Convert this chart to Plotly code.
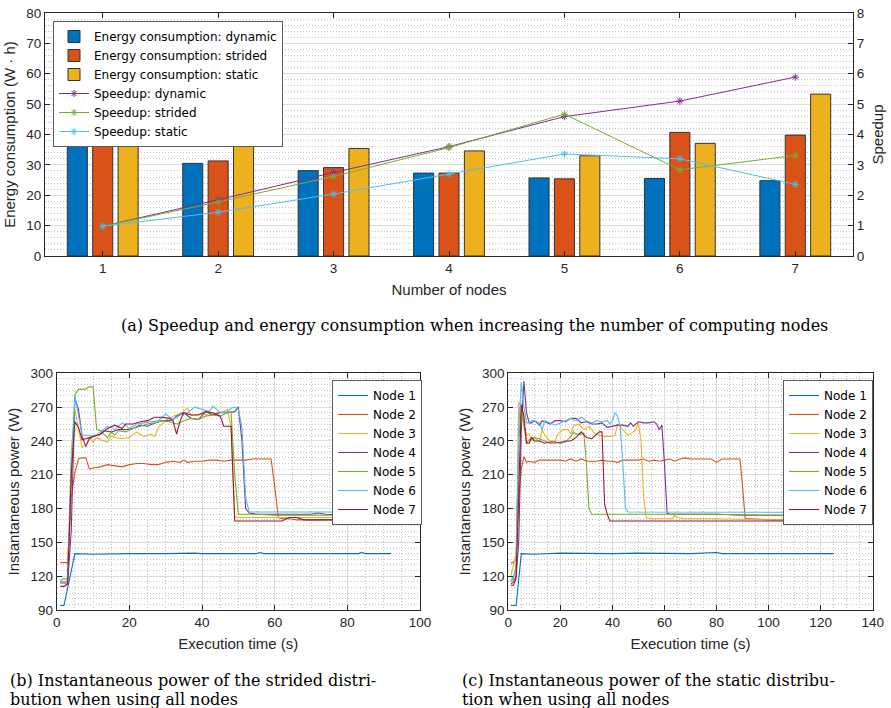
import plotly.graph_objects as go

# ---------------- data: top chart ----------------
nodes = [1, 2, 3, 4, 5, 6, 7]
energy_dynamic = [37.1, 30.5, 28.1, 27.3, 25.7, 25.5, 24.8]
energy_strided = [37.0, 31.3, 29.1, 27.3, 25.4, 40.7, 39.8]
energy_static = [36.4, 37.0, 35.4, 34.6, 33.0, 37.1, 53.3]
speedup_dynamic = [0.98, 1.85, 2.75, 3.60, 4.59, 5.10, 5.89]
speedup_strided = [0.98, 1.78, 2.62, 3.57, 4.67, 2.84, 3.31]
speedup_static = [0.98, 1.44, 2.04, 2.70, 3.36, 3.20, 2.36]

# ---------------- data: strided distribution power ----------------
str_t1 = [1, 2, 5, 10, 20, 25, 26, 30, 37, 38, 40, 50, 55, 56, 57, 60, 70, 83, 84, 85, 92]
str_p1 = [94, 94, 140, 139.5, 140, 140.5, 140, 140, 141, 140.5, 140, 140, 140, 141, 140, 140, 140, 140, 141, 140, 140]
str_t2 = [1, 2, 3, 4, 5, 6, 7, 8, 9, 10, 12, 14, 16, 18, 20, 22, 24, 26, 28, 30, 32, 34, 35, 36, 38, 40, 42, 44, 46, 48, 50, 52, 54, 56, 58, 59, 60, 61, 62, 64, 66, 70, 80, 90, 92]
str_p2 = [132, 132, 132, 190, 212, 224, 225, 225, 215, 216, 217, 219, 218, 217, 219, 220, 220, 219, 219, 221, 222, 221, 223, 221, 222, 222, 223, 223, 222, 223, 223, 223, 224, 224, 224, 224, 200, 172, 171, 171, 170, 170, 170, 170, 170]
str_t3 = [1, 2, 3, 4, 5, 6, 7, 8, 9, 10, 11, 12, 14, 15, 16, 18, 20, 22, 23, 24, 26, 27, 28, 30, 32, 34, 36, 37, 38, 40, 42, 44, 46, 47, 48, 49, 50, 55, 60, 70, 80, 92]
str_p3 = [116, 118, 116, 230, 268, 250, 234, 236, 243, 239, 243, 241, 239, 245, 243, 242, 243, 248, 246, 244, 246, 244, 252, 258, 262, 264, 269, 263, 263, 264, 263, 265, 266, 268, 252, 173, 172, 172, 172, 172, 172, 172]
str_t4 = [1, 2, 3, 4, 5, 6, 7, 8, 9, 10, 12, 13, 15, 17, 19, 21, 23, 25, 27, 29, 31, 32, 33, 35, 37, 39, 41, 43, 45, 47, 49, 50, 51, 52, 53, 55, 60, 65, 70, 72, 74, 80, 90, 92]
str_p4 = [114, 114, 114, 160, 278, 268, 244, 235, 242, 244, 246, 249, 248, 250, 250, 251, 254, 253, 256, 258, 258, 259, 262, 265, 260, 259, 266, 263, 265, 265, 266, 270, 240, 180, 176, 175, 175, 175, 175, 176, 175, 174, 174, 174]
str_t5 = [1, 2, 3, 4, 5, 6, 8, 9, 10, 11, 12, 14, 15, 16, 17, 19, 21, 23, 25, 27, 29, 31, 33, 35, 37, 39, 41, 43, 45, 47, 48, 49, 50, 55, 60, 70, 80, 92]
str_p5 = [115, 115, 115, 200, 281, 286, 286, 288, 288, 250, 249, 243, 248, 245, 249, 248, 251, 253, 255, 256, 258, 257, 255, 258, 260, 259, 262, 263, 262, 265, 266, 210, 175, 175, 174, 174, 174, 174]
str_t6 = [1, 2, 3, 4, 5, 6, 7, 8, 10, 11, 12, 14, 15, 16, 18, 19, 20, 22, 24, 26, 28, 30, 32, 34, 36, 38, 40, 42, 43, 45, 47, 48, 49, 50, 51, 52, 53, 55, 60, 70, 80, 92]
str_p6 = [116, 118, 118, 220, 280, 262, 245, 245, 245, 245, 248, 253, 252, 250, 256, 254, 251, 255, 256, 257, 258, 264, 259, 263, 265, 270, 268, 266, 271, 265, 266, 269, 270, 268, 252, 190, 177, 177, 177, 177, 177, 177]
str_t7 = [1, 2, 3, 4, 5, 6, 7, 8, 10, 12, 14, 16, 18, 19, 21, 23, 25, 27, 29, 31, 32, 33, 34, 35, 37, 39, 41, 43, 45, 46, 47, 48, 49, 50, 55, 62, 64, 66, 68, 75, 85, 88, 90, 92]
str_p7 = [111, 111, 113, 210, 257, 252, 241, 242, 244, 246, 251, 254, 251, 255, 255, 257, 258, 261, 261, 260, 258, 246, 258, 265, 263, 263, 266, 265, 262, 253, 253, 253, 169, 169, 169, 169, 172, 172, 170, 170, 170, 170, 171, 171]

# ---------------- data: static distribution power ----------------
sta_t1 = [1, 3, 5, 10, 20, 30, 40, 50, 60, 70, 80, 82, 90, 100, 110, 120, 125]
sta_p1 = [94, 94, 140, 139.5, 140.5, 140, 140, 140.5, 140, 140, 141, 140, 140, 140, 140, 140.5, 140]
sta_t2 = [1, 2, 3, 4, 5, 6, 7, 8, 10, 12, 14, 16, 18, 20, 22, 24, 26, 28, 30, 32, 34, 36, 38, 40, 42, 44, 46, 48, 50, 52, 54, 56, 58, 60, 62, 64, 66, 68, 70, 72, 74, 76, 78, 80, 82, 84, 86, 88, 89, 90, 91, 93, 100, 110, 120, 125]
sta_p2 = [132, 132, 135, 190, 215, 226, 221, 222, 221, 223, 223, 223, 223, 223, 222, 224, 222, 224, 222, 222, 222, 223, 222, 222, 221, 223, 223, 223, 223, 224, 222, 223, 222, 223, 224, 222, 224, 225, 224, 224, 224, 224, 224, 221, 224, 224, 224, 224, 224, 200, 171, 171, 170, 170, 170, 169.5]
sta_t3 = [1, 2, 3, 4, 5, 6, 7, 8, 9, 10, 11, 12, 13, 14, 16, 18, 19, 21, 23, 24, 25, 27, 29, 31, 33, 35, 37, 39, 41, 42, 44, 46, 48, 49, 50, 51, 52, 53, 55, 60, 63, 64, 65, 68, 80, 100, 125]
sta_p3 = [120, 130, 140, 274, 272, 255, 245, 246, 240, 243, 241, 240, 250, 245, 240, 240, 246, 250, 250, 246, 253, 255, 250, 253, 247, 245, 244, 244, 245, 255, 250, 245, 248, 250, 256, 240, 190, 172, 171, 171, 171, 174, 172, 171, 171, 170, 170]
sta_t4 = [1, 2, 3, 4, 5, 6, 7, 8, 9, 10, 12, 13, 14, 16, 18, 20, 22, 24, 26, 28, 30, 32, 34, 36, 38, 40, 42, 44, 46, 47, 48, 50, 52, 54, 56, 57, 58, 59, 60, 61, 62, 65, 70, 80, 90, 100, 107, 108, 110, 120, 125]
sta_p4 = [113, 115, 120, 150, 250, 293, 265, 256, 256, 258, 254, 258, 257, 255, 258, 258, 257, 260, 260, 256, 257, 255, 255, 256, 252, 253, 254, 254, 253, 256, 253, 257, 256, 256, 257, 255, 250, 254, 220, 176, 175, 175, 175, 175, 174, 174, 174, 176, 174, 175, 174]
sta_t5 = [1, 2, 3, 4, 5, 6, 7, 8, 10, 12, 14, 16, 18, 20, 22, 24, 25, 26, 28, 29, 30, 31, 32, 34, 40, 60, 80, 100, 125]
sta_p5 = [115, 118, 130, 240, 270, 255, 238, 241, 243, 242, 240, 238, 238, 239, 239, 244, 248, 246, 246, 247, 220, 180, 175, 175, 175, 175, 175, 174, 174]
sta_t6 = [1, 2, 3, 4, 5, 6, 7, 8, 9, 10, 12, 13, 14, 16, 18, 20, 22, 24, 26, 28, 30, 32, 34, 36, 38, 39, 40, 41, 42, 43, 44, 45, 46, 50, 60, 80, 100, 125]
sta_p6 = [117, 120, 125, 250, 292, 270, 256, 256, 258, 258, 256, 250, 258, 256, 254, 256, 258, 260, 258, 261, 258, 256, 258, 257, 258, 255, 258, 265, 262, 252, 220, 180, 177, 177, 177, 177, 177, 176.5]
sta_t7 = [1, 2, 3, 4, 5, 6, 7, 8, 9, 10, 12, 14, 16, 18, 20, 22, 24, 26, 28, 30, 32, 34, 35, 36, 37, 38, 39, 40, 50, 60, 80, 100, 125]
sta_p7 = [112, 112, 118, 200, 272, 262, 238, 238, 243, 240, 240, 238, 239, 239, 238, 240, 240, 243, 248, 243, 242, 246, 248, 248, 184, 175, 169, 169, 169, 169, 169, 169, 169]

node_labels = ["Node 1", "Node 2", "Node 3", "Node 4", "Node 5", "Node 6", "Node 7"]
colors = ["#0072BD", "#D95319", "#EDB120", "#7E2F8E", "#77AC30", "#4DBEEE", "#A2142F"]

FONT = "Liberation Sans, Arial, sans-serif"
LEGFONT = "DejaVu Sans, sans-serif"
SERIF = "DejaVu Serif, serif"
INK = "#262626"
GRID = "#dcdcdc"
MINOR = "#c2c2c2"

fig = go.Figure()

# ---- top chart: bars ----
for name, vals, col in [("Energy consumption: dynamic", energy_dynamic, colors[0]),
                        ("Energy consumption: strided", energy_strided, colors[1]),
                        ("Energy consumption: static", energy_static, colors[2])]:
    fig.add_trace(go.Bar(x=nodes, y=vals, name=name, marker=dict(color=col, line=dict(color="#333333", width=1)),
                         xaxis="x", yaxis="y", legend="legend"))

for name, vals, col in [("Speedup: dynamic", speedup_dynamic, colors[3]),
                        ("Speedup: strided", speedup_strided, colors[4]),
                        ("Speedup: static", speedup_static, colors[5])]:
    fig.add_trace(go.Scatter(x=nodes, y=vals, name=name, mode="lines+markers",
                             line=dict(color=col, width=1),
                             marker=dict(symbol="asterisk-open", size=6, color=col, line=dict(color=col, width=1)),
                             xaxis="x", yaxis="y2", legend="legend"))

# ---- bottom charts ----
str_series = [(str_t1, str_p1), (str_t2, str_p2), (str_t3, str_p3), (str_t4, str_p4),
              (str_t5, str_p5), (str_t6, str_p6), (str_t7, str_p7)]
sta_series = [(sta_t1, sta_p1), (sta_t2, sta_p2), (sta_t3, sta_p3), (sta_t4, sta_p4),
              (sta_t5, sta_p5), (sta_t6, sta_p6), (sta_t7, sta_p7)]
for i, (t, p) in enumerate(str_series):
    fig.add_trace(go.Scatter(x=t, y=p, name=node_labels[i], mode="lines", line=dict(color=colors[i], width=1.1),
                             xaxis="x3", yaxis="y3", legend="legend2"))
for i, (t, p) in enumerate(sta_series):
    fig.add_trace(go.Scatter(x=t, y=p, name=node_labels[i], mode="lines", line=dict(color=colors[i], width=1.1),
                             xaxis="x4", yaxis="y4", legend="legend3"))

W, H = 891, 708
def px(x):
    return x / W
def py(y):
    return 1 - y / H

axis_common = dict(showline=True, linecolor=INK, linewidth=1, ticks="inside", ticklen=5, tickcolor=INK,
                   tickfont=dict(family=FONT, size=13.5, color=INK), zeroline=False, automargin=False,
                   ticklabeloverflow="allow",
                   title_font=dict(family=FONT, size=15, color=INK))

def minor(d):
    return dict(dtick=d, showgrid=True, gridcolor=MINOR, griddash="1px,2px", gridwidth=1, ticks="")

legend_common = dict(bgcolor="white", bordercolor="#5a5a5a", borderwidth=1,
                     font=dict(family=LEGFONT, size=12, color="black"), xanchor="left", yanchor="top",
                     traceorder="normal", itemwidth=30)

fig.update_layout(
    width=W, height=H, margin=dict(l=0, r=0, t=0, b=0, autoexpand=False),
    paper_bgcolor="white", plot_bgcolor="white",
    barmode="group", bargap=0.34, bargroupgap=0.21,
    showlegend=True, hovermode=False,
    xaxis=dict(domain=[px(45), px(853)], anchor="y", range=[0.5, 7.5], tickvals=nodes, showgrid=False,
               mirror="ticks", title=dict(text="Number of nodes", standoff=9), **axis_common),
    yaxis=dict(domain=[py(256), py(13)], anchor="x", range=[0, 80], dtick=10, showgrid=True, gridcolor=GRID,
               minor=minor(2), title=dict(text="Energy consumption (W · h)", standoff=7), **axis_common),
    yaxis2=dict(overlaying="y", anchor="x", side="right", range=[0, 8], dtick=1, showgrid=False,
                title=dict(text="Speedup", standoff=8), **axis_common),
    xaxis3=dict(domain=[px(56.7), px(420)], anchor="y3", range=[0, 100], dtick=20, showgrid=True, gridcolor=GRID,
                minor=minor(5), mirror="ticks", title=dict(text="Execution time (s)", standoff=9), **axis_common),
    yaxis3=dict(domain=[py(610), py(373.3)], anchor="x3", range=[90, 300], dtick=30, showgrid=True, gridcolor=GRID,
                minor=minor(5), mirror="ticks", title=dict(text="Instantaneous power (W)", standoff=7), **axis_common),
    xaxis4=dict(domain=[px(508.3), px(872.7)], anchor="y4", range=[0, 140], dtick=20, showgrid=True, gridcolor=GRID,
                minor=minor(5), mirror="ticks", title=dict(text="Execution time (s)", standoff=9), **axis_common),
    yaxis4=dict(domain=[py(610), py(373.3)], anchor="x4", range=[90, 300], dtick=30, showgrid=True, gridcolor=GRID,
                minor=minor(5), mirror="ticks", title=dict(text="Instantaneous power (W)", standoff=7), **axis_common),
    legend=dict(x=px(53), y=py(21), **legend_common),
    legend2=dict(x=px(332), y=py(380), **legend_common),
    legend3=dict(x=px(783), y=py(380), **legend_common),
)

captions = [
    ("(a) Speedup and energy consumption when increasing the number of computing nodes", 474, 325, "center"),
    ("(b) Instantaneous power of the strided distri-", 8, 680, "left"),
    ("bution when using all nodes", 8, 699, "left"),
    ("(c) Instantaneous power of the static distribu-", 460, 680, "left"),
    ("tion when using all nodes", 460, 699, "left"),
]
for text, x, y, anchor in captions:
    fig.add_annotation(text=text, x=px(x), y=py(y), xref="paper", yref="paper", xanchor=anchor, yanchor="middle",
                       showarrow=False, font=dict(family=SERIF, size=16, color="black"))

# remove the default 8px page margin so the 891x708 figure fills the window exactly
fig.write_html("out.html", config={"displayModeBar": False, "staticPlot": True},
               post_script="document.body.style.margin='0';document.body.style.overflow='hidden';")
